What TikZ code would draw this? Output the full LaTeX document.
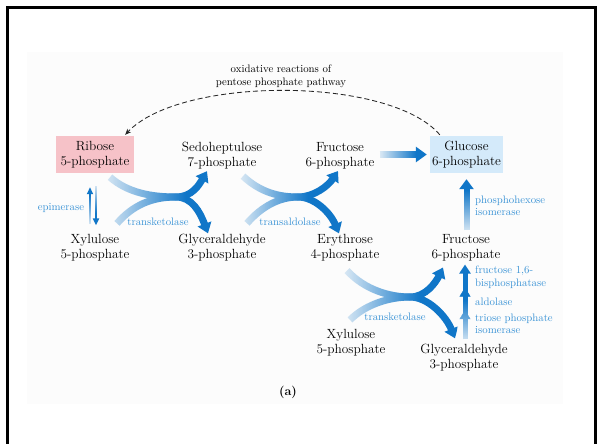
\documentclass[tikz,border=0pt]{standalone}
\usetikzlibrary{arrows.meta,fadings,decorations.markings,calc}
\definecolor{arrowblue}{RGB}{16,118,200}
\definecolor{labelblue}{RGB}{60,148,214}
\definecolor{ribpink}{RGB}{246,194,200}
\definecolor{glublue}{RGB}{212,234,250}
\definecolor{panel}{RGB}{252,252,252}
\tikzfading[name=opaqueL, left color=transparent!0, right color=transparent!100]
\tikzfading[name=opaqueB, bottom color=transparent!0, top color=transparent!100]
\tikzfading[name=opaqueT, top color=transparent!0, bottom color=transparent!100]
\pgfdeclarelayer{bglayer}
\pgfdeclarelayer{arrowlayer}
\pgfsetlayers{bglayer,arrowlayer,main}
\begin{document}
\begin{tikzpicture}[x=1pt,y=-1pt,
  metab/.style={align=center, inner sep=1pt, font=\fontsize{13.3}{15}\selectfont},
  enz/.style={text=labelblue, inner sep=0pt, font=\fontsize{10.8}{12.5}\selectfont},
  bigarrow/.style={draw=arrowblue, line width=7pt},
  bighead/.style={-{Triangle[width=14pt,length=10pt]}},
  fadeL/.style={fill=panel, fill opacity=0.9, path fading=opaqueL},
  fadeB/.style={fill=panel, fill opacity=0.9, path fading=opaqueB},
  fadeT/.style={fill=panel, fill opacity=0.9, path fading=opaqueT}]
\useasboundingbox (0,0) rectangle (597,444);
\begin{pgfonlayer}{bglayer}
\fill[panel] (27,52) rectangle (563,404);
\end{pgfonlayer}
\draw[line width=3pt] (7.5,450) -- (7.5,7.5) -- (595.5,7.5) -- (595.5,450);

\node[metab, fill=ribpink, minimum width=78pt, minimum height=37pt] (rib) at (95,154.5) {Ribose\\5-phosphate};
\node[metab] (sed) at (222,155.5) {Sedoheptulose\\7-phosphate};
\node[metab] (fr1) at (340,155.5) {Fructose\\6-phosphate};
\node[metab, fill=glublue, minimum width=73pt, minimum height=37pt] (glu) at (466.5,154.5) {Glucose\\6-phosphate};
\node[metab] (xy1) at (95,248) {Xylulose\\5-phosphate};
\node[metab] (gl1) at (222,248) {Glyceraldehyde\\3-phosphate};
\node[metab] (ery) at (345,248) {Erythrose\\4-phosphate};
\node[metab] (fr2) at (466,248) {Fructose\\6-phosphate};
\node[metab] (xy2) at (351,342.5) {Xylulose\\5-phosphate};
\node[metab] (gl2) at (464,358) {Glyceraldehyde\\3-phosphate};

\node[font=\fontsize{10.8}{13}\selectfont, align=center, inner sep=0pt] (title) at (281,76) {oxidative reactions of\\pentose phosphate pathway};

\node[enz] (epi) at (61,208) {epimerase};
\node[enz] (tk1) at (158,222) {transketolase};
\node[enz] (ta) at (290,222) {transaldolase};
\node[enz] (tk2) at (395,317) {transketolase};
\node[enz, anchor=west, align=left] (phi) at (475,206) {phosphohexose\\isomerase};
\node[enz, anchor=west, align=left] (fbp) at (475,277) {fructose 1,6-\\bisphosphatase};
\node[enz, anchor=west] (ald) at (475,302) {aldolase};
\node[enz, anchor=west, align=left] (tpi) at (475,324) {triose phosphate\\isomerase};
\node[font=\bfseries\fontsize{12.5}{14}\selectfont] (lab) at (288,392) {(a)};

\begin{pgfonlayer}{arrowlayer}
% oxidative branch
\draw[black!85, line width=0.85pt, dash pattern=on 5pt off 3pt, -{Stealth[length=6pt,width=5pt]}]
  ($(glu.north west)+(10,-1)$) .. controls (390,76) and (180,76) .. ($(rib.north east)+(-9,-1)$);
% transketolase 1
\coordinate (m1) at (176,197);
\draw[bigarrow] ($(rib.south)+(15,4)$) .. controls (128,193) and (152,197) .. (m1);
\draw[bigarrow] ($(xy1.north)+(22,-10)$) .. controls (133,205) and (152,197) .. (m1);
\draw[bigarrow,bighead] (m1) .. controls (192,197) and (199,185) .. ($(sed.south)+(-15,1)$);
\draw[bigarrow,bighead] (m1) .. controls (192,197) and (200,212) .. ($(gl1.north)+(-14,0)$);
% transaldolase
\coordinate (m2) at (298,197);
\draw[bigarrow] ($(sed.south)+(21,6)$) .. controls (261,193) and (280,197) .. (m2);
\draw[bigarrow] ($(gl1.north)+(25,-10)$) .. controls (262,206) and (280,197) .. (m2);
\draw[bigarrow,bighead] (m2) .. controls (314,197) and (328,186) .. ($(fr1.south)+(-2,1)$);
\draw[bigarrow,bighead] (m2) .. controls (314,197) and (330,212) .. ($(ery.north)+(-6,0)$);
% transketolase 2
\coordinate (m3) at (410,297);
\draw[bigarrow] ($(ery.south)+(2,8)$) .. controls (365,290) and (390,297) .. (m3);
\draw[bigarrow] ($(xy2.north)+(-1,-8)$) .. controls (366,304) and (390,297) .. (m3);
\draw[bigarrow,bighead] (m3) .. controls (426,297) and (436,282) .. ($(fr2.south)+(-23,5)$);
\draw[bigarrow,bighead] (m3) .. controls (428,297) and (446,316) .. ($(gl2.north)+(-9,-5)$);
% fructose -> glucose
\draw[bigarrow, -{Triangle[width=15pt,length=11pt]}, shorten <=4pt, shorten >=3pt] (fr1.east |- glu) -- (glu.west);
% phosphohexose isomerase
\draw[draw=arrowblue, line width=6pt, -{Triangle[width=14pt,length=10pt]}, shorten <=3pt, shorten >=6pt] (fr2.north -| glu) -- (glu.south);
% gluconeogenic column
\draw[draw=arrowblue, line width=5pt, -{Triangle[width=11pt,length=9pt]}, shorten <=4pt, shorten >=2pt] ($(gl2.north)+(1,0)$) -- ($(fr2.south)+(-1,0)$);
\path[decorate, decoration={markings,
   mark=at position 0.41 with {\arrow[color=arrowblue]{Triangle[width=11pt,length=9pt]}},
   mark=at position 0.69 with {\arrow[color=arrowblue]{Triangle[width=11pt,length=9pt]}}}]
   ($(gl2.north)+(1,0)$) -- ($(fr2.south)+(-1,0)$);
% epimerase
\draw[draw=arrowblue, line width=2pt, -{Triangle[width=6pt,length=7pt]}] ($(xy1.north)+(-5,-9)$) -- ($(rib.south)+(-5,14)$);
\draw[draw=arrowblue, line width=2pt, -{Triangle[width=6pt,length=7pt]}] ($(rib.south)+(1,13)$) -- ($(xy1.north)+(1,-8)$);
% fading overlays
\fill[fadeL] (100,170) rectangle (186,232);
\fill[fadeL] (236,170) rectangle (308,232);
\fill[fadeL] (340,260) rectangle (420,328);
\fill[fadeL] (378,144) rectangle (416,166);
\fill[fadeB] (455,190) rectangle (477,234);
\fill[fadeB] (457,300) rectangle (473,345);
\fill[fadeB] (87.8,195) rectangle (92.2,226);
\fill[fadeT] (93.8,183) rectangle (98.2,213);
\end{pgfonlayer}
\end{tikzpicture}
\end{document}
